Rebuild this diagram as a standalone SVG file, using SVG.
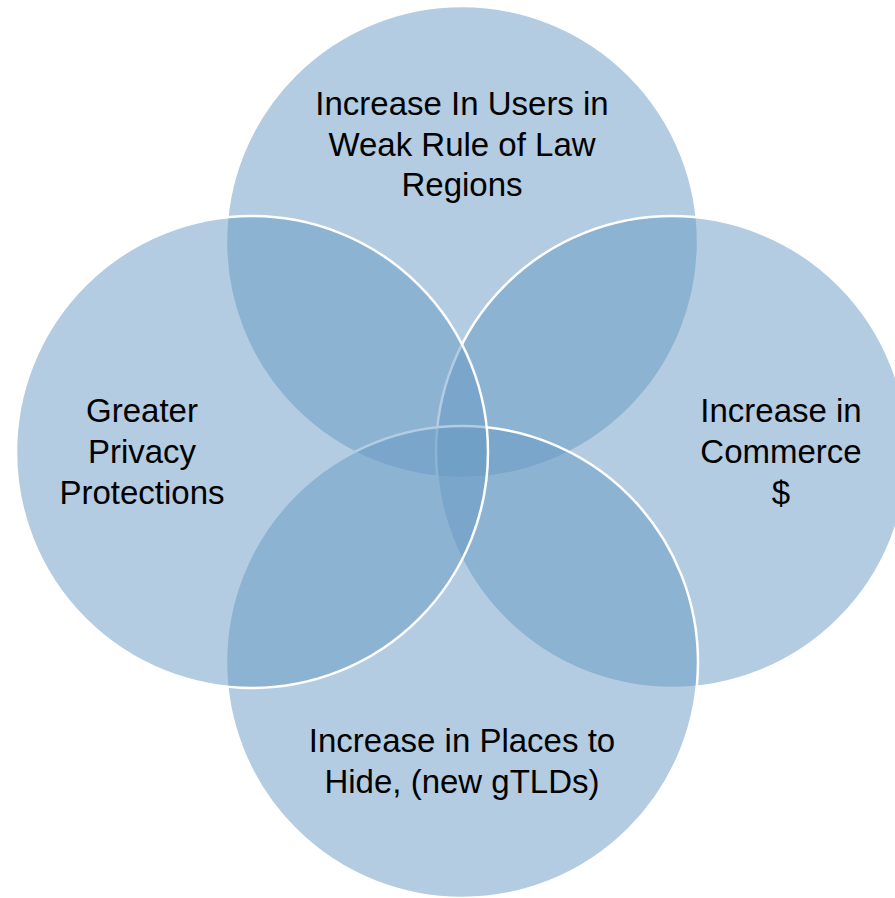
<svg xmlns="http://www.w3.org/2000/svg" width="895" height="898" viewBox="0 0 895 898">
<style>
.c{fill:rgb(104,153,195);fill-opacity:0.5;stroke:#fff;stroke-width:2.5}
text{font-family:"Liberation Sans",Arial,sans-serif;font-size:33px;fill:#000;text-anchor:middle}
</style>
<rect width="895" height="898" fill="#fff"/>
<g id="top"><circle class="c" cx="462" cy="242" r="236"/></g>
<g id="right"><circle class="c" cx="672" cy="452" r="236"/></g>
<g id="bottom"><circle class="c" cx="462" cy="662" r="236"/></g>
<g id="left"><circle class="c" cx="252" cy="452" r="236"/></g>
<g id="labels">
<text x="462" y="115">Increase In Users in</text>
<text x="462" y="156">Weak Rule of Law</text>
<text x="462" y="196">Regions</text>
<text x="142" y="422">Greater</text>
<text x="142" y="463">Privacy</text>
<text x="142" y="504">Protections</text>
<text x="781" y="422">Increase in</text>
<text x="781" y="463">Commerce</text>
<text x="781" y="504">$</text>
<text x="462" y="752">Increase in Places to</text>
<text x="462" y="793">Hide, (new gTLDs)</text>
</g>
<g id="connectors"/>
</svg>
